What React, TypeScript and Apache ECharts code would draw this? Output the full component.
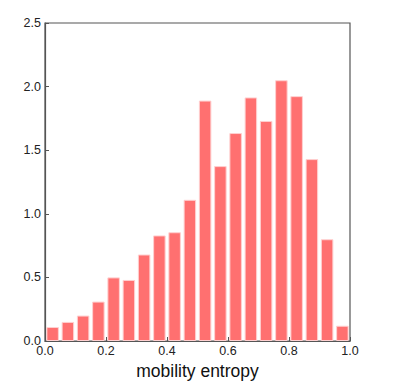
import React, { useEffect, useRef } from "react";
import * as echarts from "echarts";

const binStarts = [0, 0.05, 0.1, 0.15, 0.2, 0.25, 0.3, 0.35, 0.4, 0.45, 0.5, 0.55, 0.6, 0.65, 0.7, 0.75, 0.8, 0.85, 0.9, 0.95];
const densities = [0.11, 0.15, 0.2, 0.31, 0.5, 0.48, 0.68, 0.83, 0.855, 1.11, 1.89, 1.375, 1.635, 1.915, 1.73, 2.05, 1.925, 1.43, 0.8, 0.12];
const binWidth = 0.05;
const xLabel = "mobility entropy";

export default function App() {
  const ref = useRef<HTMLDivElement>(null);
  useEffect(() => {
    const chart = echarts.init(ref.current!, null, { renderer: "svg" });
    const font = "'Liberation Sans', Arial, sans-serif";
    chart.setOption({
      animation: false,
      grid: {
        left: 45,
        top: 23,
        right: 49,
        bottom: 40,
        containLabel: false,
        outerBoundsMode: "none",
        show: true,
        borderColor: "#555",
        borderWidth: 1.2,
        backgroundColor: "transparent",
      },
      xAxis: {
        type: "value",
        min: 0,
        max: 1,
        interval: 0.2,
        name: xLabel,
        nameLocation: "middle",
        nameGap: 16,
        nameTextStyle: { color: "#111", fontSize: 17.5, fontFamily: font },
        axisLine: { show: true, onZero: false, lineStyle: { color: "#555", width: 1.2 } },
        axisTick: { show: true, inside: true, length: 4, lineStyle: { color: "#555" } },
        axisLabel: {
          color: "#222",
          fontSize: 12.5,
          fontFamily: font,
          margin: 3,
          formatter: (v: number) => v.toFixed(1),
        },
        splitLine: { show: false },
      },
      yAxis: {
        type: "value",
        min: 0,
        max: 2.5,
        interval: 0.5,
        axisLine: { show: true, lineStyle: { color: "#555", width: 1.2 } },
        axisTick: { show: true, inside: true, length: 4, lineStyle: { color: "#555" } },
        axisLabel: {
          color: "#222",
          fontSize: 12.5,
          fontFamily: font,
          margin: 4,
          formatter: (v: number) => v.toFixed(1),
        },
        splitLine: { show: false },
      },
      series: [
        {
          type: "bar",
          data: binStarts.map((s, i) => [s + binWidth / 2, densities[i]]),
          barWidth: 12.5,
          itemStyle: {
            color: "#ff7070",
            borderColor: "#ffd0d0",
            borderWidth: 1,
          },
        },
      ],
    });
    return () => chart.dispose();
  }, []);
  return <div ref={ref} style={{ width: 399, height: 381, position: "absolute", left: 0, top: 0 }} />;
}
